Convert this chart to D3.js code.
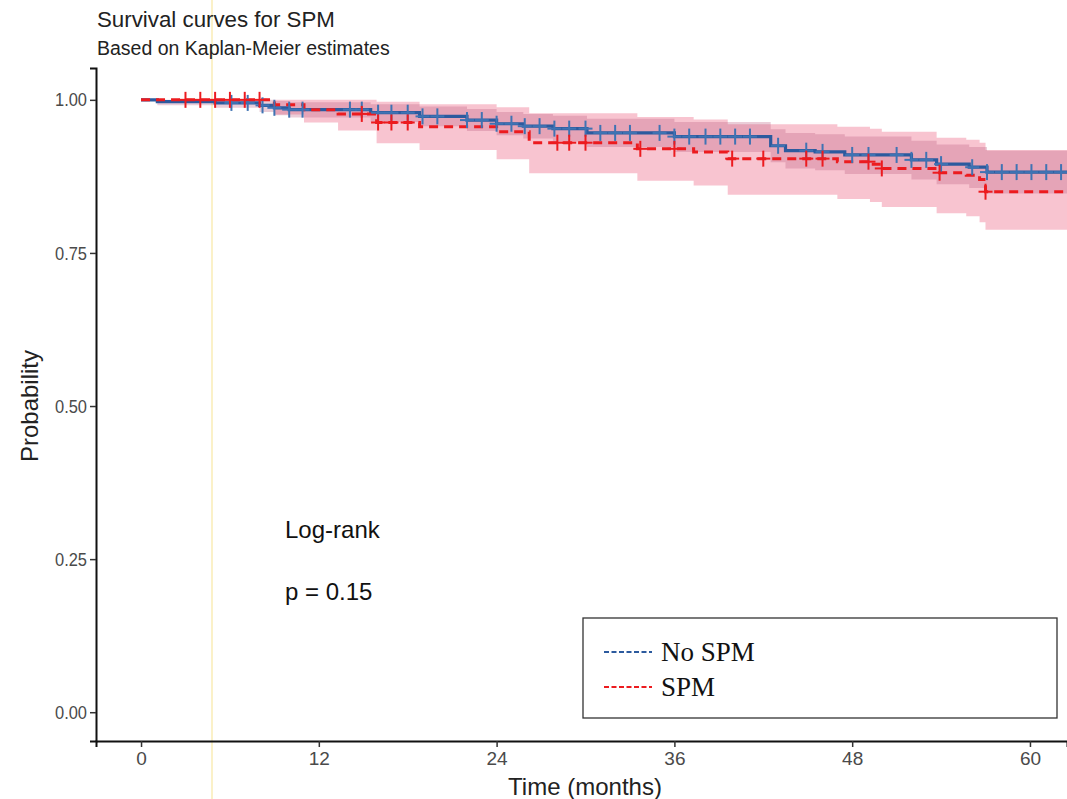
<!DOCTYPE html>
<html>
<head>
<meta charset="utf-8">
<script src="https://cdn.jsdelivr.net/npm/d3@7"></script>
<style>
  html, body { margin: 0; padding: 0; background: #fff; }
  svg { display: block; font-family: "Liberation Sans", Arial, sans-serif; }
</style>
</head>
<body>
<svg id="chart" width="1067" height="799"></svg>
<script>
// Kaplan-Meier curves

const xTicks = [0, 12, 24, 36, 48, 60];
const yTicks = [0, 0.25, 0.5, 0.75, 1];

// No SPM
const noTime  = [0, 1.1, 5, 8, 9, 10, 15.5, 18.8, 22, 24, 25.8, 27.8, 30.1, 36, 42.5, 43.5, 45.5, 47.5, 52, 53.7, 55.9, 57.1];
const noSurv  = [1, 0.997, 0.995, 0.991, 0.987, 0.984, 0.979, 0.973, 0.967, 0.961, 0.957, 0.953, 0.946, 0.940, 0.925, 0.917, 0.915, 0.910, 0.902, 0.895, 0.890, 0.882];
const noUpper = [1, 1, 1, 1, 0.998, 0.996, 0.993, 0.989, 0.985, 0.980, 0.977, 0.974, 0.969, 0.964, 0.952, 0.946, 0.944, 0.940, 0.933, 0.927, 0.923, 0.917];
const noLower = [1, 0.991, 0.987, 0.980, 0.975, 0.971, 0.964, 0.957, 0.949, 0.942, 0.937, 0.932, 0.923, 0.915, 0.898, 0.888, 0.885, 0.879, 0.870, 0.862, 0.856, 0.847];
const noCensor = [6.1, 7.2, 8.2, 9.0, 10.0, 10.9, 14.1, 14.9, 16.0, 16.9, 18.0, 19.0, 20.0, 22.0, 23.0, 24.0, 25.0, 25.9, 26.9, 27.9, 28.9, 30.0, 31.0, 32.0, 33.0, 35.0, 36.0, 37.0, 38.1, 39.1, 40.1, 41.1, 43.0, 44.9, 46.0, 48.0, 49.1, 51.0, 52.0, 53.0, 54.0, 56.1, 57.1, 58.1, 59.1, 60.1, 61.1, 62.1];

// SPM
const spTime  = [0, 9, 11, 13.3, 15.9, 18.8, 24, 26.2, 33.5, 37.3, 39.6, 47, 49.2, 50, 53.7, 55.7, 56.6, 57];
const spSurv  = [1, 0.992, 0.984, 0.977, 0.963, 0.956, 0.948, 0.930, 0.920, 0.915, 0.904, 0.899, 0.895, 0.888, 0.881, 0.877, 0.870, 0.850];
const spUpper = [1, 1, 1, 1, 0.997, 0.993, 0.988, 0.978, 0.972, 0.968, 0.960, 0.956, 0.953, 0.948, 0.938, 0.935, 0.930, 0.918];
const spLower = [1, 0.976, 0.963, 0.950, 0.929, 0.918, 0.903, 0.880, 0.868, 0.860, 0.845, 0.838, 0.833, 0.825, 0.815, 0.810, 0.800, 0.788];
const spCensor = [3.0, 4.0, 5.0, 6.0, 7.0, 8.0, 14.9, 16.0, 16.9, 18.0, 28.1, 28.9, 30.0, 33.7, 36.0, 39.9, 42.0, 44.9, 46.0, 49.1, 50.0, 53.9, 57.0];

const legendLabels = ["No SPM", "SPM"];
const blue = "#2c5a9e", blueMark = "#3f73b3", red = "#ec1b1f";

const svg = d3.select("#chart");

const x = d3.scaleLinear().domain([-3.04, 62.5]).range([96, 1067]);
const y = d3.scaleLinear().domain([-0.047, 1.052]).range([741, 68]);

// faint yellow scan line
svg.append("line")
  .attr("x1", 212).attr("x2", 212).attr("y1", 0).attr("y2", 799)
  .attr("stroke", "#fbf1c8").attr("stroke-width", 2);

function rows(time, surv, lo, hi) {
  const r = time.map((t, i) => ({ t, s: surv[i], lo: lo[i], hi: hi[i] }));
  const last = r[r.length - 1];
  r.push({ ...last, t: x.domain()[1] });
  return r;
}

function survAt(time, surv, t) {
  let v = surv[0];
  time.forEach((tt, i) => { if (tt <= t + 1e-9) v = surv[i]; });
  return v;
}

const noRows = rows(noTime, noSurv, noLower, noUpper);
const spRows = rows(spTime, spSurv, spLower, spUpper);

const area = d3.area().curve(d3.curveStepAfter)
  .x(d => x(d.t)).y0(d => y(d.lo)).y1(d => y(d.hi));
const line = d3.line().curve(d3.curveStepAfter)
  .x(d => x(d.t)).y(d => y(d.s));

// confidence bands
svg.append("path").attr("d", area(spRows))
  .attr("fill", "#f28aa2").attr("opacity", 0.5);
svg.append("path").attr("d", area(noRows))
  .attr("fill", "#b8587e").attr("opacity", 0.3);

// curves
svg.append("path").attr("d", line(noRows))
  .attr("fill", "none").attr("stroke", blue).attr("stroke-width", 3.2);
svg.append("path").attr("d", line(spRows))
  .attr("fill", "none").attr("stroke", red).attr("stroke-width", 3)
  .attr("stroke-dasharray", "9 6");

// censor marks
function censors(times, time, surv, color) {
  const g = svg.append("g").attr("stroke", color).attr("stroke-width", 2);
  times.forEach(t => {
    const cx = x(t), cy = y(survAt(time, surv, t));
    g.append("line").attr("x1", cx - 7).attr("x2", cx + 7).attr("y1", cy).attr("y2", cy);
    g.append("line").attr("x1", cx).attr("x2", cx).attr("y1", cy - 8).attr("y2", cy + 8);
  });
}
censors(noCensor, noTime, noSurv, blueMark);
censors(spCensor, spTime, spSurv, red);

// axes
const xAxis = svg.append("g").attr("transform", "translate(0,741)")
  .call(d3.axisBottom(x).tickValues(xTicks).tickSize(6).tickPadding(5).tickFormat(d3.format("d")));
const yAxis = svg.append("g").attr("transform", "translate(96,0)")
  .call(d3.axisLeft(y).tickValues(yTicks).tickSize(6).tickPadding(3).tickFormat(d3.format(".2f")));
[xAxis, yAxis].forEach(a => {
  a.attr("font-size", null).attr("font-family", null);
  a.select(".domain").attr("stroke", "#111").attr("stroke-width", 2);
  a.selectAll(".tick line").attr("stroke", "#333").attr("stroke-width", 1.5);
  a.selectAll(".tick text").attr("fill", "#4a4a4a")
    .style("font-size", "19px")
    .style("font-family", "'Liberation Sans', Arial, sans-serif");
});
// scanned labels look slightly condensed
yAxis.selectAll(".tick text").attr("textLength", 32).attr("lengthAdjust", "spacingAndGlyphs");

// titles
svg.append("text").attr("x", 97).attr("y", 27)
  .attr("font-size", 22.3).attr("fill", "#222").text("Survival curves for SPM");
svg.append("text").attr("x", 97).attr("y", 55)
  .attr("font-size", 19.5).attr("fill", "#222").text("Based on Kaplan-Meier estimates");

svg.append("text").attr("x", 585).attr("y", 795)
  .attr("text-anchor", "middle").attr("font-size", 24).attr("fill", "#222")
  .text("Time (months)");
svg.append("text")
  .attr("transform", "translate(38,406) rotate(-90)")
  .attr("text-anchor", "middle").attr("font-size", 24).attr("fill", "#222")
  .text("Probability");

svg.append("text").attr("x", 285).attr("y", 538)
  .attr("font-size", 24).attr("fill", "#111").text("Log-rank");
svg.append("text").attr("x", 285).attr("y", 600)
  .attr("font-size", 24).attr("fill", "#111").text("p = 0.15");

// legend
svg.append("rect").attr("x", 583).attr("y", 618).attr("width", 474).attr("height", 100)
  .attr("fill", "#fff").attr("stroke", "#333").attr("stroke-width", 1.3);
const lg = svg.append("g");
[blue, red].forEach((c, i) => {
  const ly = 652 + i * 35;
  lg.append("line").attr("x1", 604).attr("x2", 652).attr("y1", ly).attr("y2", ly)
    .attr("stroke", c).attr("stroke-width", 2).attr("stroke-dasharray", "5 2.5");
  lg.append("text").attr("x", 661).attr("y", ly + 9)
    .attr("font-family", "'Liberation Serif', 'Times New Roman', serif")
    .attr("font-size", 27).attr("fill", "#111").text(legendLabels[i]);
});
</script>
</body>
</html>
